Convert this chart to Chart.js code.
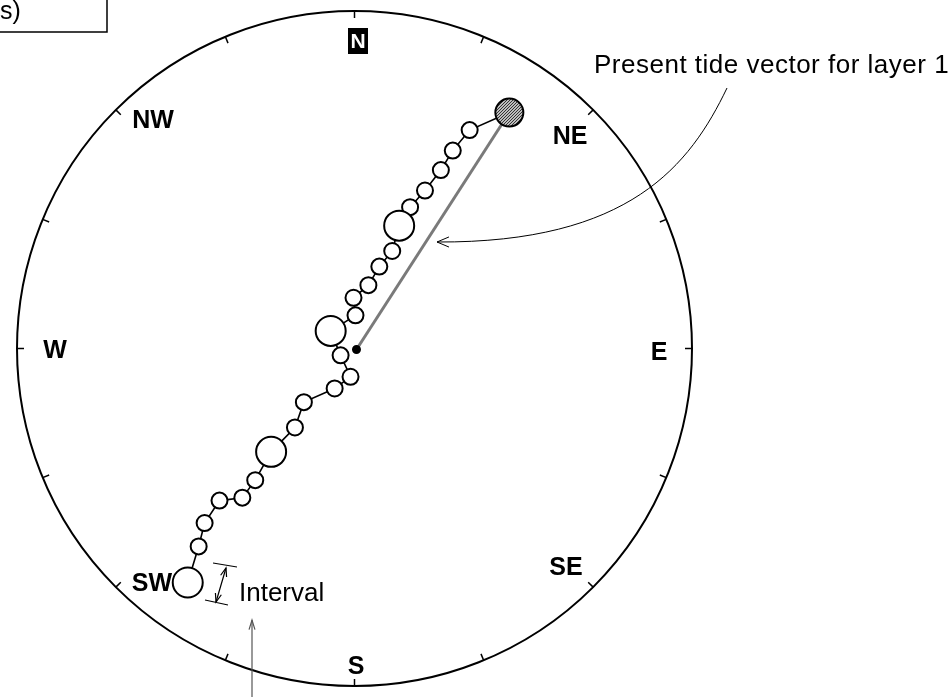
<!DOCTYPE html>
<html>
<head>
<meta charset="utf-8">
<script src="https://cdn.jsdelivr.net/npm/chart.js@4.4.1/dist/chart.umd.min.js"></script>
<style>
  html, body { margin: 0; padding: 0; background: #fff; }
  #wrap { width: 951px; height: 697px; position: relative; }
</style>
</head>
<body>
<div id="wrap"><canvas id="tideChart"></canvas></div>
<script>
// Rayon de la rose (unités du graphe)
const RADIUS = 340;

// Hodographe de la marée : du vecteur actuel (NE) vers le SW
const chainX = [156, 116, 99, 87, 71, 56, 45, 38, 25, 14, -1, 1, -24, -14, -4, -20, -51, -60, -84, -100, -113, -136, -151, -157, -168];
const chainY = [242, 224, 203, 183, 162, 145, 126, 100, 84, 65, 52, 34, 18, -7, -29, -41, -55, -81, -106, -135, -153, -156, -179, -203, -240];
// gros cercle = repère d'intervalle (toutes les 6 valeurs)
const bigMarks = [6, 12, 18, 24];

// Vecteur de marée actuel (origine -> couche 1)
const vectorX = [2, 156];
const vectorY = [-1, 242];

// Points cardinaux
const compassLabels = ['N', 'NE', 'E', 'SE', 'S', 'SW', 'W', 'NW'];
const labelPos = { N: [358, 41], NE: [570, 137], E: [659, 353], SE: [566, 568], S: [356, 667], SW: [152, 584], W: [55, 351], NW: [153, 121] };

const chainData = chainX.map((x, i) => ({ x: x, y: chainY[i] }));
const vectorData = vectorX.map((x, i) => ({ x: x, y: vectorY[i] }));

// motif hachuré pour le cercle du vecteur actuel
function hatchPattern() {
    const c = document.createElement('canvas');
    c.width = 3; c.height = 3;
    const g = c.getContext('2d');
    g.fillStyle = '#bdbdbd';
    g.fillRect(0, 0, 3, 3);
    g.fillStyle = '#333';
    g.fillRect(0, 0, 1, 1);
    g.fillRect(2, 1, 1, 1);
    g.fillRect(1, 2, 1, 1);
    return g.createPattern(c, 'repeat');
}

const pointRadius = chainData.map((d, i) => i === 0 ? 14 : (bigMarks.includes(i) ? 15 : 8));
const pointFill = chainData.map((d, i) => i === 0 ? hatchPattern() : '#ffffff');

function arrowHead(ctx, tx, ty, fx, fy, len, spread) {
    const a = Math.atan2(ty - fy, tx - fx);
    ctx.beginPath();
    ctx.moveTo(tx - len * Math.cos(a - spread), ty - len * Math.sin(a - spread));
    ctx.lineTo(tx, ty);
    ctx.lineTo(tx - len * Math.cos(a + spread), ty - len * Math.sin(a + spread));
    ctx.stroke();
}

// ======================================================
// Rose des vents + annotations
// ======================================================
const compassPlugin = {
    id: 'compass',
    beforeDatasetsDraw(chart) {
        const ctx = chart.ctx;
        const sx = chart.scales.x, sy = chart.scales.y;
        const cx = sx.getPixelForValue(0), cy = sy.getPixelForValue(0);
        const r = sx.getPixelForValue(RADIUS) - cx;
        ctx.save();
        ctx.strokeStyle = '#000';
        ctx.lineWidth = 2;
        ctx.beginPath();
        ctx.arc(cx, cy, r, 0, Math.PI * 2);
        ctx.stroke();
        // graduations tous les 22.5°
        ctx.lineWidth = 1.5;
        for (let k = 0; k < 16; k++) {
            const a = k * Math.PI / 8;
            const dx = Math.sin(a), dy = -Math.cos(a);
            ctx.beginPath();
            ctx.moveTo(cx + dx * r, cy + dy * r);
            ctx.lineTo(cx + dx * (r - 7), cy + dy * (r - 7));
            ctx.stroke();
        }
        ctx.restore();
    },
    afterDraw(chart) {
        const ctx = chart.ctx;
        ctx.save();
        ctx.fillStyle = '#000';
        ctx.textAlign = 'center';
        ctx.textBaseline = 'middle';
        ctx.font = 'bold 25px "Liberation Sans", Arial, sans-serif';
        compassLabels.forEach(lab => {
            const p = labelPos[lab];
            if (lab === 'N') {
                ctx.fillStyle = '#000';
                ctx.fillRect(p[0] - 10, p[1] - 13, 20, 26);
                ctx.fillStyle = '#fff';
                ctx.font = 'bold 21px "Liberation Sans", Arial, sans-serif';
                ctx.fillText('N', p[0], p[1] + 1);
                ctx.fillStyle = '#000';
                ctx.font = 'bold 25px "Liberation Sans", Arial, sans-serif';
            } else {
                ctx.fillText(lab, p[0], p[1]);
            }
        });

        // légende tronquée en haut à gauche
        ctx.strokeStyle = '#000';
        ctx.lineWidth = 1.5;
        ctx.beginPath();
        ctx.moveTo(0, 32);
        ctx.lineTo(107, 32);
        ctx.lineTo(107, 0);
        ctx.stroke();
        ctx.font = '25px "Liberation Sans", Arial, sans-serif';
        ctx.textAlign = 'left';
        ctx.textBaseline = 'alphabetic';
        ctx.fillText('s)', 0, 19);

        // annotation du vecteur actuel
        ctx.font = '26px "Liberation Sans", Arial, sans-serif';
        ctx.letterSpacing = '0.5px';
        ctx.fillText('Present tide vector for layer 1', 594, 73);
        ctx.letterSpacing = '0px';
        ctx.lineWidth = 1;
        ctx.beginPath();
        ctx.moveTo(727, 88);
        ctx.bezierCurveTo(690, 165, 630, 243, 437, 242);
        ctx.stroke();
        arrowHead(ctx, 437, 242, 460, 242, 13, 0.4);

        // repère d'intervalle
        ctx.lineWidth = 1.2;
        ctx.beginPath();
        ctx.moveTo(213, 563); ctx.lineTo(237, 567);
        ctx.moveTo(205, 600); ctx.lineTo(228, 605);
        ctx.moveTo(226, 568); ctx.lineTo(216, 602);
        ctx.stroke();
        arrowHead(ctx, 226, 568, 216, 602, 9, 0.35);
        arrowHead(ctx, 216, 602, 226, 568, 9, 0.35);
        ctx.fillText('Interval', 239, 601);

        // flèche verticale du bas
        ctx.strokeStyle = '#555';
        ctx.beginPath();
        ctx.moveTo(252, 697);
        ctx.lineTo(252, 620);
        ctx.stroke();
        arrowHead(ctx, 252, 620, 252, 640, 10, 0.3);
        ctx.restore();
    }
};

document.addEventListener('DOMContentLoaded', () => {
    const ctx = document.getElementById('tideChart').getContext('2d');
    new Chart(ctx, {
        type: 'scatter',
        data: {
            datasets: [
                {
                    label: 'Tide hodograph',
                    data: chainData,
                    showLine: true,
                    borderColor: '#000',
                    borderWidth: 1.6,
                    pointRadius: pointRadius,
                    pointBackgroundColor: pointFill,
                    pointBorderColor: '#000',
                    pointBorderWidth: 2,
                    order: 1
                },
                {
                    label: 'Present tide vector',
                    data: vectorData,
                    showLine: true,
                    borderColor: '#7a7a7a',
                    borderWidth: 3,
                    pointRadius: [3, 0],
                    pointBackgroundColor: '#000',
                    pointBorderColor: '#000',
                    order: 2
                }
            ]
        },
        options: {
            responsive: true,
            maintainAspectRatio: false,
            animation: false,
            layout: { padding: { left: 12, top: 12, right: 259, bottom: 5 } },
            scales: {
                x: { type: 'linear', min: -RADIUS, max: RADIUS, display: false },
                y: { type: 'linear', min: -RADIUS, max: RADIUS, display: false }
            },
            plugins: {
                legend: { display: false },
                tooltip: { enabled: false }
            }
        },
        plugins: [compassPlugin]
    });
});
</script>
</body>
</html>
